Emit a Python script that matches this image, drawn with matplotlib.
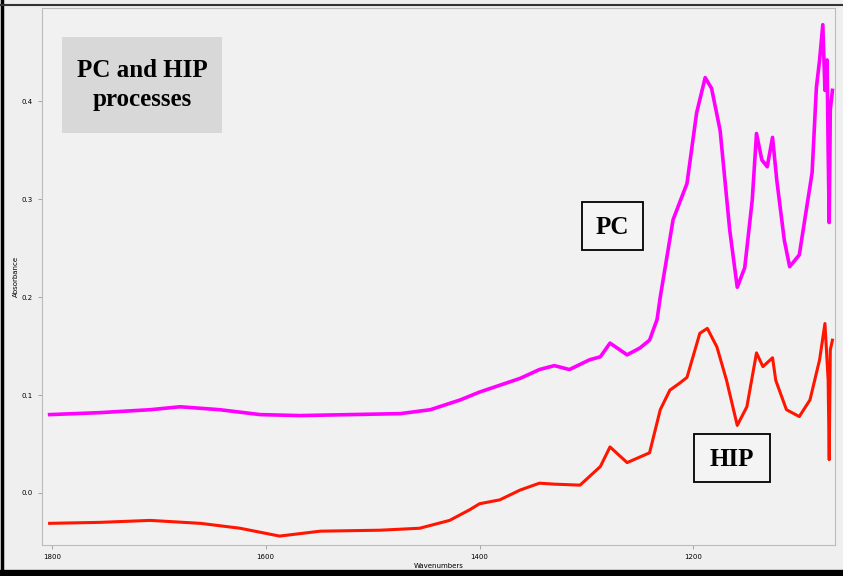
import numpy as np
import matplotlib
matplotlib.use("Agg")
import matplotlib.pyplot as plt
from matplotlib.patches import Rectangle
from matplotlib.lines import Line2D

# wavenumber (cm-1) and absorbance
pc_wn = [1802, 1755, 1708, 1680, 1643, 1605, 1568, 1521, 1474, 1446, 1418, 1400,
         1381, 1362, 1344, 1330, 1316, 1297, 1287, 1278, 1262, 1250, 1241, 1234,
         1231, 1219, 1206, 1197, 1189, 1183, 1175, 1166, 1159, 1152, 1145, 1141,
         1136, 1131, 1126, 1122, 1115, 1110, 1101, 1089, 1085, 1082, 1079, 1077,
         1075, 1074, 1073, 1072, 1070]
pc_abs = [0.080, 0.082, 0.085, 0.088, 0.085, 0.080, 0.079, 0.080, 0.081, 0.085,
          0.095, 0.103, 0.110, 0.117, 0.126, 0.130, 0.126, 0.136, 0.139, 0.153,
          0.141, 0.148, 0.156, 0.177, 0.200, 0.279, 0.316, 0.388, 0.424, 0.413,
          0.370, 0.268, 0.210, 0.230, 0.299, 0.367, 0.340, 0.333, 0.363, 0.319,
          0.258, 0.231, 0.243, 0.327, 0.414, 0.442, 0.478, 0.411, 0.442, 0.350,
          0.276, 0.391, 0.411]

hip_wn = [1802, 1755, 1708, 1661, 1624, 1587, 1549, 1493, 1456, 1428, 1409, 1400,
          1381, 1362, 1344, 1330, 1306, 1287, 1278, 1262, 1241, 1231, 1222, 1213,
          1206, 1194, 1187, 1178, 1169, 1159, 1150, 1141, 1135, 1126, 1123, 1113,
          1101, 1091, 1082, 1077, 1074, 1073, 1072, 1070]
hip_abs = [-0.031, -0.030, -0.028, -0.031, -0.036, -0.044, -0.039, -0.038, -0.036,
           -0.028, -0.017, -0.011, -0.007, 0.003, 0.010, 0.009, 0.008, 0.027, 0.047,
           0.031, 0.041, 0.085, 0.105, 0.112, 0.118, 0.163, 0.168, 0.149, 0.115,
           0.069, 0.088, 0.143, 0.129, 0.138, 0.115, 0.085, 0.078, 0.095, 0.136,
           0.173, 0.115, 0.034, 0.146, 0.156]

x_ticks = [1800, 1600, 1400, 1200]
y_ticks = [0.0, 0.1, 0.2, 0.3, 0.4]

fig = plt.figure(figsize=(8.43, 5.76), dpi=100)
fig.patch.set_facecolor("#efefef")
# frame of the screenshot: thin left/top, heavy bottom
fig.lines.append(Line2D([0.002, 0.002], [0, 1], transform=fig.transFigure, color="black", lw=2.5))
fig.lines.append(Line2D([0, 1], [0.992, 0.992], transform=fig.transFigure, color="#333333", lw=1.5))
fig.lines.append(Line2D([0, 1], [0.004, 0.004], transform=fig.transFigure, color="black", lw=6))

ax = fig.add_axes([0.05, 0.054, 0.94, 0.932])
ax.set_facecolor("#f1f1f1")
ax.plot(pc_wn, pc_abs, color="#ff00ff", linewidth=2.6)
ax.plot(hip_wn, hip_abs, color="#ff1500", linewidth=2.2)

ax.set_xlim(1809, 1068)
ax.set_ylim(-0.053, 0.495)
ax.set_xticks(x_ticks)
ax.set_yticks(y_ticks)
ax.tick_params(labelsize=5, length=3, color="#999999", width=0.6)
for s in ax.spines.values():
    s.set_color("#bbbbbb")
    s.set_linewidth(0.8)
ax.set_xlabel("Wavenumbers", fontsize=5, labelpad=2)
ax.set_ylabel("Absorbance", fontsize=5, labelpad=2)

serif = ["Liberation Serif", "DejaVu Serif"]

# title box
ax.add_patch(Rectangle((0.025, 0.768), 0.202, 0.179, transform=ax.transAxes,
                       facecolor="#d8d8d8", edgecolor="none"))
ax.text(0.126, 0.857, "PC and HIP\nprocesses", transform=ax.transAxes,
        ha="center", va="center", fontsize=18, fontweight="bold", family=serif,
        linespacing=1.35)

# label boxes
ax.add_patch(Rectangle((0.681, 0.550), 0.077, 0.088, transform=ax.transAxes,
                       facecolor="#f4f4f4", edgecolor="black", linewidth=1.3))
ax.text(0.720, 0.592, "PC", transform=ax.transAxes, ha="center", va="center",
        fontsize=18, fontweight="bold", family=serif)
ax.add_patch(Rectangle((0.823, 0.118), 0.095, 0.088, transform=ax.transAxes,
                       facecolor="#f4f4f4", edgecolor="black", linewidth=1.3))
ax.text(0.870, 0.160, "HIP", transform=ax.transAxes, ha="center", va="center",
        fontsize=18, fontweight="bold", family=serif)

fig.savefig("out.png", dpi=100, facecolor=fig.get_facecolor())
